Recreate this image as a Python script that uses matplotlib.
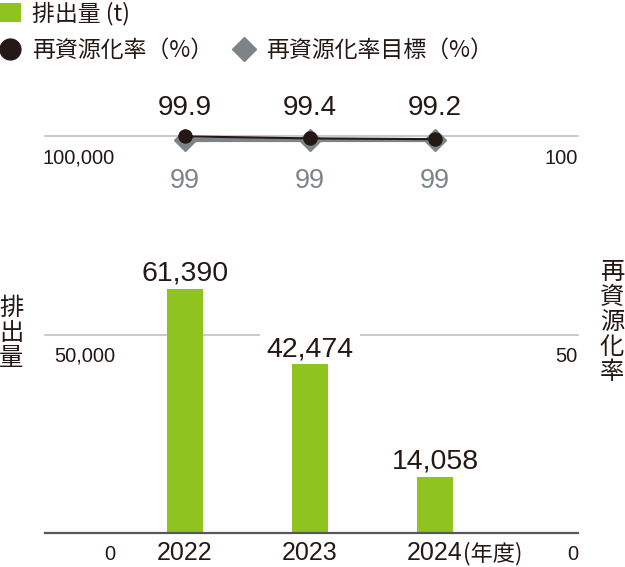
import matplotlib
matplotlib.use("Agg")
import matplotlib.pyplot as plt
from matplotlib.lines import Line2D
from matplotlib.font_manager import FontProperties

# data
years = ["2022", "2023", "2024"]
emissions = [61390, 42474, 14058]
rate = [99.9, 99.4, 99.2]
target = [99, 99, 99]
left_ticks = [0, 50000, 100000]
left_labels = ["0", "50,000", "100,000"]
right_ticks = [0, 50, 100]
right_labels = ["0", "50", "100"]

JP = "Noto Sans CJK JP"
NUM = "Liberation Sans"

green = "#8fc31f"
dark = "#231815"
gray = "#7d8487"

fig = plt.figure(figsize=(6.25, 5.67), dpi=100)
ax = fig.add_axes([45/625, 1-533/567, 533/625, 397/567])
ax2 = ax.twinx()
x = list(range(len(years)))
ax.set_xlim(-1.12, 3.144)
ax.set_ylim(0, 100000)
ax2.set_ylim(0, 100)
for a in (ax, ax2):
    for s in a.spines.values():
        s.set_visible(False)
    a.tick_params(length=0)
    a.set_yticks([])

# grid lines
for t in left_ticks:
    if t == 0:
        ax.axhline(t, color="#595757", lw=1.6, zorder=4, clip_on=False)
    else:
        ax.axhline(t, color="#c0c0c0", lw=1.2, zorder=1, clip_on=False)

# tick labels (inside, under the grid line)
for t, lab in zip(left_ticks, left_labels):
    ax.annotate(lab, xy=((115-45)/533, t), xycoords=("axes fraction", "data"),
                xytext=(0, -9), textcoords="offset points", ha="right", va="top",
                family=NUM, fontsize=14.5, color=dark, annotation_clip=False)
for t, lab in zip(right_ticks, right_labels):
    ax2.annotate(lab, xy=(1, t), xycoords=("axes fraction", "data"),
                 xytext=(0, -9), textcoords="offset points", ha="right", va="top",
                 family=NUM, fontsize=14.5, color=dark, annotation_clip=False)

# bars
bars = ax.bar(x, emissions, width=0.288, color=green, zorder=3)
for xi, v in zip(x, emissions):
    ax.annotate(f"{v:,}", xy=(xi, v), xytext=(0, 6), textcoords="offset points",
                ha="center", va="baseline", family=NUM, fontsize=20.5, color=dark,
                bbox=dict(fc="white", ec="none", pad=5), zorder=2)

ax.set_xticks(x, years)
ax.tick_params(axis="x", pad=6)
for lbl in ax.get_xticklabels():
    lbl.set_family(NUM)
    lbl.set_fontsize(18)
    lbl.set_color(dark)
ax.annotate("(年度)", xy=(x[-1], 0), xytext=(20, -6), textcoords="offset points",
            ha="left", va="top", family=JP, fontsize=16, color=dark)

# lines
ax2.plot(x, target, color=gray, lw=3, zorder=1, clip_on=False)
ax2.plot(x, target, "D", ms=11.7, color=gray, zorder=2, clip_on=False)
ax2.plot(x, rate, color=dark, lw=1.5, zorder=3, clip_on=False)
ax2.plot(x, rate, "o", ms=9.4, color=dark, zorder=4, clip_on=False)
for xi, r in zip(x, rate):
    ax2.annotate(f"{r}", xy=(xi, 100), xytext=(0, 15), textcoords="offset points",
                 ha="center", va="baseline", family=NUM, fontsize=20, color=dark,
                 annotation_clip=False)
for xi, t in zip(x, target):
    ax2.annotate(f"{t}", xy=(xi, t), xytext=(0, -34.5), textcoords="offset points",
                 ha="center", va="baseline", family=NUM, fontsize=19.5, color=gray,
                 annotation_clip=False)

# axis titles
fig.text(11/625, 1-333/567, "排\n出\n量", ha="center", va="center", family=JP,
         fontsize=17.5, linespacing=0.95, color=dark)
fig.text(612/625, 1-322/567, "再\n資\n源\n化\n率", ha="center", va="center", family=JP,
         fontsize=17.5, linespacing=0.95, color=dark)

# legends
prop = FontProperties(family=JP, size=16.5)
leg1 = fig.legend(handles=[bars], labels=["排出量 (t)"], loc="upper left",
                  bbox_to_anchor=(0, 1-2/567), frameon=False, prop=prop, handlelength=0.9,
                  handleheight=0.9, handletextpad=0.5, borderpad=0, borderaxespad=0,
                  labelcolor=dark)
h_rate = Line2D([], [], marker="o", ls="none", ms=15, color=dark)
h_target = Line2D([], [], marker="D", ls="none", ms=12.7, color=gray)
leg2 = fig.legend(handles=[h_rate, h_target], labels=["再資源化率（%）", "再資源化率目標（%）"],
                  ncol=2, loc="upper left", bbox_to_anchor=(0, 1-39/567), frameon=False,
                  prop=prop, handlelength=0.9, handletextpad=0.5, columnspacing=0.9,
                  borderpad=0, borderaxespad=0, labelcolor=dark)

fig.savefig("out.png", dpi=100)
